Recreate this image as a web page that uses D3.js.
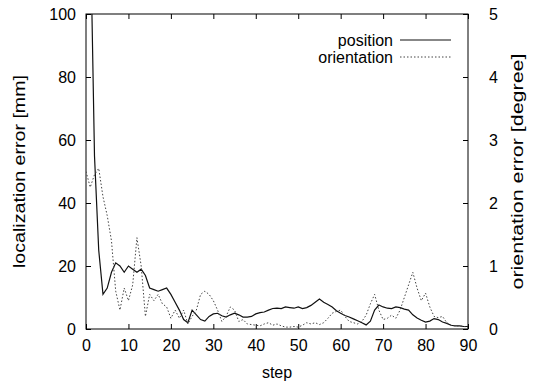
<!DOCTYPE html>
<html><head><meta charset="utf-8">
<script src="https://cdn.jsdelivr.net/npm/d3@7"></script>
<style>body{margin:0;background:#fff}svg{display:block;font-family:"Liberation Sans",Arial,sans-serif}</style>
</head><body><svg id="c" width="535" height="383"></svg>
<script>
const steps = d3.range(0, 91);
const positionErr = [200,130,55,25,11,13,18,21,20,18,20,19,18,19,17,13,12.5,12,12.5,13,11,8.5,6,3,2,6,4.5,3,2.5,4,4.8,5,4.2,3.8,4.5,5,4.5,3.8,3.8,4,4.8,5.2,5.4,6,6.5,6.6,6.5,7,6.8,6.6,7,6.5,6.8,7.5,8.5,9.5,8.5,7.8,7,5.8,5,4.3,3.8,3.2,2.6,2,1.3,2.5,6,7.6,7,6.6,6.5,7,6.8,6.3,6,4.5,3.5,2.8,2.2,2.5,3.3,3,2.2,1.8,1.2,1,1,0.8,0.8];
const orientationErr = [2.5,2.25,2.45,2.55,2.1,1.8,1.4,0.6,0.3,0.65,0.45,0.7,1.45,1.0,0.2,0.55,0.45,0.55,0.4,0.35,0.17,0.3,0.17,0.3,0.08,0.2,0.3,0.55,0.6,0.55,0.45,0.3,0.12,0.2,0.35,0.3,0.12,0.15,0.08,0.07,0.06,0.05,0.08,0.1,0.06,0.08,0.05,0.03,0.03,0.04,0.03,0.06,0.1,0.08,0.1,0.07,0.1,0.17,0.25,0.28,0.3,0.2,0.12,0.1,0.08,0.12,0.22,0.4,0.55,0.3,0.15,0.17,0.22,0.17,0.3,0.5,0.7,0.9,0.65,0.45,0.57,0.35,0.2,0.18,0.2,0.1,0.06,0.05,0.05,0.04,0.03];
const xTicks = [0,10,20,30,40,50,60,70,80,90];
const yTicks = [0,20,40,60,80,100];
const y2Ticks = [0,1,2,3,4,5];
const seriesNames = ["position","orientation"];

const W=535,H=383, L=86, R=468, T=14, B=329;
const svg = d3.select("#c");
const x = d3.scaleLinear().domain([0,90]).range([L,R]);
const y = d3.scaleLinear().domain([0,100]).range([B,T]);
const y2 = d3.scaleLinear().domain([0,5]).range([B,T]);

svg.append("clipPath").attr("id","clip").append("rect").attr("x",L).attr("y",T).attr("width",R-L).attr("height",B-T);

const fs = 16;
const gx = svg.append("g").attr("transform",`translate(0,${B})`)
  .call(d3.axisBottom(x).tickValues(xTicks).tickSizeInner(-5).tickSizeOuter(0).tickPadding(11));
const gxt = svg.append("g").attr("transform",`translate(0,${T})`)
  .call(d3.axisTop(x).tickValues(xTicks).tickSizeInner(-5).tickSizeOuter(0).tickFormat(""));
const gy = svg.append("g").attr("transform",`translate(${L},0)`)
  .call(d3.axisLeft(y).tickValues(yTicks).tickSizeInner(-5).tickSizeOuter(0).tickPadding(10));
const gy2 = svg.append("g").attr("transform",`translate(${R},0)`)
  .call(d3.axisRight(y2).tickValues(y2Ticks).tickFormat(d3.format("d")).tickSizeInner(-5).tickSizeOuter(0).tickPadding(21));
[gx,gxt,gy,gy2].forEach(g=>{
  g.select(".domain").remove();
  g.selectAll("line").attr("stroke","#000");
  g.selectAll("text").attr("font-size",fs).attr("font-family","Liberation Sans, Arial, sans-serif").attr("fill","#000");
});
gx.selectAll("text").attr("dy","0.71em");
svg.append("rect").attr("x",L).attr("y",T).attr("width",R-L).attr("height",B-T)
  .attr("fill","none").attr("stroke","#000").attr("stroke-width",1);

const line1 = d3.line().x((d,i)=>x(steps[i])).y(d=>y(d));
const line2 = d3.line().x((d,i)=>x(steps[i])).y(d=>y2(d));
const plot = svg.append("g").attr("clip-path","url(#clip)");
plot.append("path").datum(positionErr).attr("d",line1).attr("fill","none").attr("stroke","#111").attr("stroke-width",1.2);
plot.append("path").datum(orientationErr).attr("d",line2).attr("fill","none").attr("stroke","#444").attr("stroke-width",1).attr("stroke-dasharray","1.5,2");

// axis titles
svg.append("text").attr("x",x(45)).attr("y",378).attr("text-anchor","middle").attr("font-size",fs).text("step");
svg.append("text").attr("transform",`translate(25,${(T+B)/2}) rotate(-90)`).attr("text-anchor","middle").attr("font-size",fs)
  .attr("textLength",193).attr("lengthAdjust","spacingAndGlyphs").text("localization error [mm]");
svg.append("text").attr("transform",`translate(523,${(T+B)/2}) rotate(-90)`).attr("text-anchor","middle").attr("font-size",fs)
  .attr("textLength",236).attr("lengthAdjust","spacingAndGlyphs").text("orientation error [degree]");

// legend
const lg = svg.append("g");
seriesNames.forEach((n,i)=>{
  const yy = 40 + i*17;
  lg.append("text").attr("x",393).attr("y",yy).attr("dy","0.35em").attr("text-anchor","end").attr("font-size",fs).text(n);
  lg.append("line").attr("x1",400).attr("x2",451).attr("y1",yy).attr("y2",yy)
    .attr("stroke", i===0?"#111":"#444").attr("stroke-width", i===0?1.2:1)
    .attr("stroke-dasharray", i===0?null:"1.5,2");
});
</script></body></html>
